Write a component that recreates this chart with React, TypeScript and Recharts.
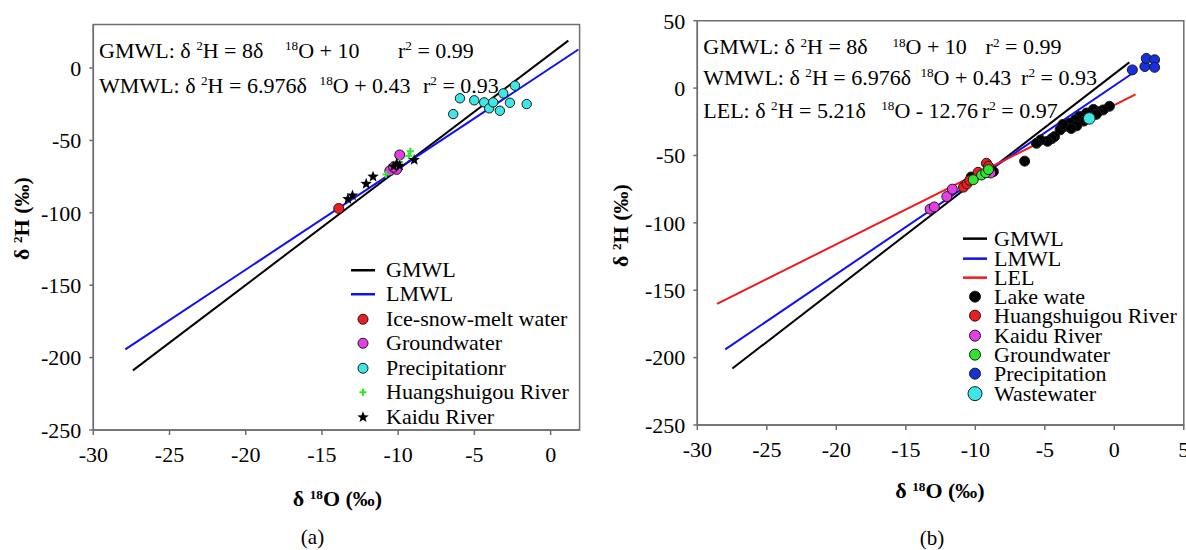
import React from 'react';
import { ScatterChart, Scatter, XAxis, YAxis, ReferenceArea, Legend } from 'recharts';

const serif = '"Liberation Serif", "Times New Roman", serif';

// ---- panel (a) ----
const xTicksA = [-30, -25, -20, -15, -10, -5, 0];
const yTicksA = [-250, -200, -150, -100, -50, 0];
const gmwlA = [{ x: -27.4, y: -208.8 }, { x: 1.16, y: 18.9 }];
const lmwlA = [{ x: -27.9, y: -194.3 }, { x: 1.82, y: 12.8 }];
const iceMeltA = [{ x: -13.9, y: -97 }];
const groundwaterA = [
  { x: -9.9, y: -60 }, { x: -10.55, y: -71 }, { x: -10.1, y: -70 }, { x: -10.3, y: -68.5 },
];
const precipA = [
  { x: -6.39, y: -31.8 }, { x: -5.95, y: -20.9 }, { x: -5.01, y: -22.3 }, { x: -4.36, y: -23.7 },
  { x: -4.03, y: -27.8 }, { x: -3.77, y: -23.7 }, { x: -3.33, y: -29.5 }, { x: -3.11, y: -17.5 },
  { x: -2.67, y: -24.0 }, { x: -2.34, y: -12.2 }, { x: -1.57, y: -24.9 },
];
const huangshuigouA = [
  { x: -9.2, y: -57.5 }, { x: -9.3, y: -60.5 }, { x: -10.8, y: -73.5 }, { x: -9.9, y: -65 },
];
const kaiduA = [
  { x: -8.95, y: -63.5 }, { x: -11.65, y: -75 }, { x: -12.1, y: -80 }, { x: -13.0, y: -88 },
  { x: -13.3, y: -90.5 }, { x: -10.1, y: -66 }, { x: -10.3, y: -68 }, { x: -9.9, y: -67.5 },
];

// ---- panel (b) ----
const xTicksB = [-30, -25, -20, -15, -10, -5, 0, 5];
const yTicksB = [-250, -200, -150, -100, -50, 0, 50];
const gmwlB = [{ x: -27.48, y: -208.1 }, { x: 1.08, y: 19.1 }];
const lmwlB = [{ x: -27.99, y: -193.9 }, { x: 1.29, y: 10.8 }];
const lelB = [{ x: -28.58, y: -160.2 }, { x: 1.53, y: -4.7 }];
const lakeB = [
  { x: -0.35, y: -13.5 }, { x: -0.8, y: -16.2 }, { x: -1.15, y: -17.5 }, { x: -1.5, y: -15.8 },
  { x: -1.3, y: -19.5 }, { x: -2.0, y: -18.5 }, { x: -2.5, y: -21 }, { x: -2.2, y: -24.5 },
  { x: -2.8, y: -23.5 }, { x: -3.2, y: -26 }, { x: -2.7, y: -28 }, { x: -3.6, y: -28.5 },
  { x: -3.1, y: -30 }, { x: -3.9, y: -31 }, { x: -3.7, y: -27 }, { x: -4.3, y: -36 },
  { x: -4.5, y: -37.5 }, { x: -4.8, y: -39.5 }, { x: -5.3, y: -38.5 }, { x: -5.6, y: -41 },
  { x: -6.45, y: -54.2 }, { x: -8.7, y: -62 }, { x: -10.3, y: -66 },
];
const huangshuigouB = [
  { x: -10.85, y: -73.5 }, { x: -10.6, y: -71 }, { x: -9.2, y: -55.8 }, { x: -9.05, y: -58 },
  { x: -9.8, y: -62.5 }, { x: -10.4, y: -68.5 },
];
const kaiduB = [
  { x: -13.25, y: -89.8 }, { x: -12.95, y: -88.2 }, { x: -12.05, y: -80.5 }, { x: -11.65, y: -75 },
  { x: -8.9, y: -63 },
];
const groundwaterB = [
  { x: -10.15, y: -68 }, { x: -9.55, y: -64.5 }, { x: -9.25, y: -62.8 }, { x: -9.05, y: -60.5 },
];
const precipB = [
  { x: 1.3, y: 13.5 }, { x: 2.2, y: 16 }, { x: 2.3, y: 22 }, { x: 2.9, y: 21 }, { x: 2.9, y: 15.4 },
];
const wastewaterB = [{ x: -1.8, y: -22.5 }];

const C = {
  black: '#000000',
  blue: '#1010ee',
  red: '#ee1c1c',
  cyan: '#3fe6e6',
  magenta: '#e83ce8',
  green: '#2ee62e',
  dotBlue: '#1530dc',
  axis: '#6e6e6e',
};

// ---- marker shapes ----
const noShape = () => <g />;
const dot = (fill: string, r: number) => (p: any) => (
  <circle cx={p.cx} cy={p.cy} r={r} fill={fill} stroke="#1a1a1a" strokeWidth={1} />
);
const starPath = (cx: number, cy: number, R: number) => {
  const pts: string[] = [];
  for (let i = 0; i < 10; i++) {
    const rad = i % 2 === 0 ? R : R * 0.42;
    const a = -Math.PI / 2 + (i * Math.PI) / 5;
    pts.push(`${cx + rad * Math.cos(a)},${cy + rad * Math.sin(a)}`);
  }
  return 'M' + pts.join('L') + 'Z';
};
const star = (p: any) => <path d={starPath(p.cx, p.cy, 6)} fill="#000" />;
const plus = (p: any) => (
  <path
    d={`M${p.cx - 3.5},${p.cy}H${p.cx + 3.5}M${p.cx},${p.cy - 3.5}V${p.cy + 3.5}`}
    stroke={C.green}
    strokeWidth={2}
  />
);

type LegendItem = { label: string; kind: 'line' | 'dot' | 'star' | 'plus'; color: string; r?: number };

const legendA: LegendItem[] = [
  { label: 'GMWL', kind: 'line', color: C.black },
  { label: 'LMWL', kind: 'line', color: C.blue },
  { label: 'Ice-snow-melt water', kind: 'dot', color: C.red, r: 5 },
  { label: 'Groundwater', kind: 'dot', color: C.magenta, r: 5 },
  { label: 'Precipitationr', kind: 'dot', color: C.cyan, r: 5 },
  { label: 'Huangshuigou River', kind: 'plus', color: C.green },
  { label: 'Kaidu River', kind: 'star', color: C.black },
];
const legendB: LegendItem[] = [
  { label: 'GMWL', kind: 'line', color: C.black },
  { label: 'LMWL', kind: 'line', color: C.blue },
  { label: 'LEL', kind: 'line', color: C.red },
  { label: 'Lake wate', kind: 'dot', color: C.black, r: 5.5 },
  { label: 'Huangshuigou River', kind: 'dot', color: C.red, r: 5.5 },
  { label: 'Kaidu River', kind: 'dot', color: C.magenta, r: 5.5 },
  { label: 'Groundwater', kind: 'dot', color: C.green, r: 5.5 },
  { label: 'Precipitation', kind: 'dot', color: C.dotBlue, r: 5.5 },
  { label: 'Wastewater', kind: 'dot', color: C.cyan, r: 7 },
];

const LegendBox = ({ items, rowH, iconW }: { items: LegendItem[]; rowH: number; iconW: number }) => (
  <div style={{ fontFamily: serif, fontSize: 22, color: '#000' }}>
    {items.map((it) => (
      <div key={it.label} style={{ display: 'flex', alignItems: 'center', height: rowH, lineHeight: `${rowH}px`, whiteSpace: 'nowrap' }}>
        <svg width={iconW} height={rowH} style={{ flex: 'none', overflow: 'visible' }}>
          {it.kind === 'line' && <line x1={0} x2={24} y1={rowH / 2} y2={rowH / 2} stroke={it.color} strokeWidth={2.5} />}
          {it.kind === 'dot' && <circle cx={12} cy={rowH / 2} r={it.r} fill={it.color} stroke="#1a1a1a" strokeWidth={1} />}
          {it.kind === 'star' && <path d={starPath(12, rowH / 2, 6)} fill="#000" />}
          {it.kind === 'plus' && (
            <path d={`M8.5,${rowH / 2}H15.5M12,${rowH / 2 - 3.5}V${rowH / 2 + 3.5}`} stroke={it.color} strokeWidth={2} />
          )}
        </svg>
        <span style={{ fontFamily: serif }}>{it.label}</span>
      </div>
    ))}
  </div>
);

const Sup = ({ children }: { children: React.ReactNode }) => (
  <span style={{ fontSize: '0.6em', position: 'relative', top: '-0.55em' }}>{children}</span>
);

const Seg = ({ x, base, children }: { x: number; base: number; children: React.ReactNode }) => (
  <div style={{ position: 'absolute', left: x, top: base - 18.4, fontSize: 22, lineHeight: '22px', whiteSpace: 'pre' }}>
    {children}
  </div>
);

const tickStyle = { fontSize: 22, fill: '#000', fontFamily: serif };

export default function App() {
  return (
    <div style={{ position: 'fixed', left: 0, top: 0, width: 1186, height: 550, overflow: 'hidden', background: '#fff', fontFamily: serif, color: '#000' }}>
      {/* panel (a) */}
      <div style={{ position: 'absolute', left: 0, top: 0 }}>
        <ScatterChart width={600} height={520} margin={{ top: 24.6, right: 20.4, bottom: 50, left: 23.3 }}>
          <XAxis type="number" dataKey="x" domain={[-30, 1.9]} ticks={xTicksA} interval={0} allowDataOverflow
            stroke={C.axis} strokeWidth={1.5} tickSize={5} tickMargin={11} tick={tickStyle} height={40} />
          <YAxis type="number" dataKey="y" domain={[-250, 30]} ticks={yTicksA} interval={0} allowDataOverflow
            stroke={C.axis} strokeWidth={1.5} tickSize={4} tickMargin={8} tick={tickStyle} width={70} />
          <ReferenceArea x1={-30} x2={1.9} y1={-250} y2={30} fill="none" stroke={C.axis} strokeWidth={1.5} ifOverflow="visible" />
          <Scatter data={gmwlA} line={{ stroke: C.black, strokeWidth: 2 }} lineType="joint" shape={noShape} isAnimationActive={false} />
          <Scatter data={lmwlA} line={{ stroke: C.blue, strokeWidth: 2 }} lineType="joint" shape={noShape} isAnimationActive={false} />
          <Scatter data={iceMeltA} shape={dot(C.red, 5)} isAnimationActive={false} />
          <Scatter data={groundwaterA} shape={dot(C.magenta, 5)} isAnimationActive={false} />
          <Scatter data={precipA} shape={dot(C.cyan, 4.7)} isAnimationActive={false} />
          <Scatter data={huangshuigouA} shape={plus} isAnimationActive={false} />
          <Scatter data={kaiduA} shape={star} isAnimationActive={false} />
          <Legend layout="horizontal" verticalAlign="middle" align="center"
            wrapperStyle={{ position: 'absolute', left: 351, top: 257.8, width: 250 }}
            content={() => <LegendBox items={legendA} rowH={24.5} iconW={35} />} />
        </ScatterChart>
      </div>

      {/* panel (b) */}
      <div style={{ position: 'absolute', left: 600, top: 0 }}>
        <ScatterChart width={604} height={520} margin={{ top: 20.7, right: 20.2, bottom: 55, left: 27.3 }}>
          <XAxis type="number" dataKey="x" domain={[-30, 5]} ticks={xTicksB} interval={0} allowDataOverflow
            stroke={C.axis} strokeWidth={1.5} tickSize={5} tickMargin={11} tick={tickStyle} height={40} />
          <YAxis type="number" dataKey="y" domain={[-250, 50]} ticks={yTicksB} interval={0} allowDataOverflow
            stroke={C.axis} strokeWidth={1.5} tickSize={4} tickMargin={8} tick={tickStyle} width={70} />
          <ReferenceArea x1={-30} x2={5} y1={-250} y2={50} fill="none" stroke={C.axis} strokeWidth={1.5} ifOverflow="visible" />
          <Scatter data={gmwlB} line={{ stroke: C.black, strokeWidth: 2 }} lineType="joint" shape={noShape} isAnimationActive={false} />
          <Scatter data={lmwlB} line={{ stroke: C.blue, strokeWidth: 2 }} lineType="joint" shape={noShape} isAnimationActive={false} />
          <Scatter data={lelB} line={{ stroke: C.red, strokeWidth: 2 }} lineType="joint" shape={noShape} isAnimationActive={false} />
          <Scatter data={lakeB} shape={dot(C.black, 5)} isAnimationActive={false} />
          <Scatter data={huangshuigouB} shape={dot(C.red, 5)} isAnimationActive={false} />
          <Scatter data={kaiduB} shape={dot(C.magenta, 5)} isAnimationActive={false} />
          <Scatter data={groundwaterB} shape={dot(C.green, 5)} isAnimationActive={false} />
          <Scatter data={precipB} shape={dot(C.dotBlue, 5)} isAnimationActive={false} />
          <Scatter data={wastewaterB} shape={dot(C.cyan, 5.8)} isAnimationActive={false} />
          <Legend layout="horizontal" verticalAlign="middle" align="center"
            wrapperStyle={{ position: 'absolute', left: 363, top: 229.3, width: 240 }}
            content={() => <LegendBox items={legendB} rowH={19.3} iconW={31} />} />
        </ScatterChart>
      </div>

      {/* equations (a) */}
      <Seg x={99} base={58}>GMWL: δ <Sup>2</Sup>H = 8δ</Seg>
      <Seg x={285} base={58}><Sup>18</Sup>O + 10</Seg>
      <Seg x={398} base={58}>r<Sup>2</Sup> = 0.99</Seg>
      <Seg x={99} base={93}>WMWL: δ <Sup>2</Sup>H = 6.976δ</Seg>
      <Seg x={319.6} base={93}><Sup>18</Sup>O + 0.43</Seg>
      <Seg x={423} base={93}>r<Sup>2</Sup> = 0.93</Seg>

      {/* equations (b) */}
      <Seg x={703.3} base={54.6}>GMWL: δ <Sup>2</Sup>H = 8δ</Seg>
      <Seg x={892.4} base={54.6}><Sup>18</Sup>O + 10</Seg>
      <Seg x={985.6} base={54.6}>r<Sup>2</Sup> = 0.99</Seg>
      <Seg x={703.3} base={85}>WMWL: δ <Sup>2</Sup>H = 6.976δ</Seg>
      <Seg x={920.4} base={85}><Sup>18</Sup>O + 0.43</Seg>
      <Seg x={1021.1} base={85}>r<Sup>2</Sup> = 0.93</Seg>
      <Seg x={703.3} base={118}>LEL: δ <Sup>2</Sup>H = 5.21δ</Seg>
      <Seg x={881.2} base={118}><Sup>18</Sup>O - 12.76</Seg>
      <Seg x={981.9} base={118}>r<Sup>2</Sup> = 0.97</Seg>

      {/* axis titles */}
      <div style={{ position: 'absolute', left: 237.5, top: 488, width: 200, textAlign: 'center', fontSize: 22, lineHeight: '22px', fontWeight: 'bold' }}>
        δ <Sup>18</Sup>O (‰)
      </div>
      <div style={{ position: 'absolute', left: 840, top: 480, width: 200, textAlign: 'center', fontSize: 22, lineHeight: '22px', fontWeight: 'bold' }}>
        δ <Sup>18</Sup>O (‰)
      </div>
      <div style={{ position: 'absolute', left: 23 - 100, top: 217 - 11, width: 200, textAlign: 'center', fontSize: 22, lineHeight: '22px', fontWeight: 'bold', transform: 'rotate(-90deg)' }}>
        δ <Sup>2</Sup>H (‰)
      </div>
      <div style={{ position: 'absolute', left: 621.6 - 100, top: 223.6 - 11, width: 200, textAlign: 'center', fontSize: 22, lineHeight: '22px', fontWeight: 'bold', transform: 'rotate(-90deg)' }}>
        δ <Sup>2</Sup>H (‰)
      </div>

      {/* panel captions */}
      <div style={{ position: 'absolute', left: 312.5 - 30, top: 527, width: 60, textAlign: 'center', fontSize: 21, lineHeight: '21px' }}>(a)</div>
      <div style={{ position: 'absolute', left: 932 - 30, top: 528, width: 60, textAlign: 'center', fontSize: 21, lineHeight: '21px' }}>(b)</div>
    </div>
  );
}
